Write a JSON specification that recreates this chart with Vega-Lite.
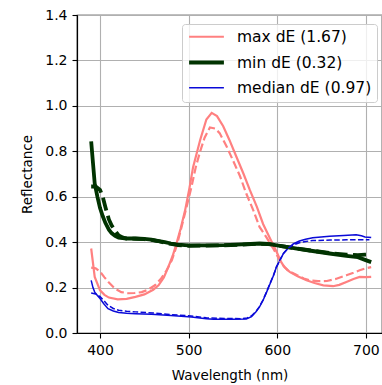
{
  "$schema": "https://vega.github.io/schema/vega-lite/v6.json",
  "width": 305,
  "height": 318,
  "autosize": {"type": "none"},
  "padding": {"left": 77, "top": 15, "right": 0, "bottom": 52},
  "background": "white",
  "config": {
    "font": "DejaVu Sans",
    "view": {"stroke": "black", "strokeWidth": 1.2},
    "axis": {
      "domainColor": "black", "domainWidth": 1.2,
      "tickColor": "black", "tickSize": 5, "tickWidth": 1.1,
      "gridColor": "#b0b0b0", "gridWidth": 1.1,
      "labelFont": "DejaVu Sans", "labelFontSize": 14, "labelColor": "black",
      "titleFont": "DejaVu Sans", "titleFontSize": 13.5, "titleFontWeight": "normal", "titleColor": "black"
    }
  },
  "datasets": {
    "d": [
      {"wl":390,"r":0.372,"series":"max dE (1.67)","kind":"solid"},
      {"wl":394,"r":0.247,"series":"max dE (1.67)","kind":"solid"},
      {"wl":400,"r":0.188,"series":"max dE (1.67)","kind":"solid"},
      {"wl":405,"r":0.168,"series":"max dE (1.67)","kind":"solid"},
      {"wl":410,"r":0.156,"series":"max dE (1.67)","kind":"solid"},
      {"wl":420,"r":0.148,"series":"max dE (1.67)","kind":"solid"},
      {"wl":430,"r":0.150,"series":"max dE (1.67)","kind":"solid"},
      {"wl":440,"r":0.159,"series":"max dE (1.67)","kind":"solid"},
      {"wl":450,"r":0.170,"series":"max dE (1.67)","kind":"solid"},
      {"wl":460,"r":0.190,"series":"max dE (1.67)","kind":"solid"},
      {"wl":466,"r":0.210,"series":"max dE (1.67)","kind":"solid"},
      {"wl":472,"r":0.245,"series":"max dE (1.67)","kind":"solid"},
      {"wl":477,"r":0.290,"series":"max dE (1.67)","kind":"solid"},
      {"wl":482,"r":0.340,"series":"max dE (1.67)","kind":"solid"},
      {"wl":486,"r":0.390,"series":"max dE (1.67)","kind":"solid"},
      {"wl":491,"r":0.460,"series":"max dE (1.67)","kind":"solid"},
      {"wl":496,"r":0.540,"series":"max dE (1.67)","kind":"solid"},
      {"wl":501,"r":0.640,"series":"max dE (1.67)","kind":"solid"},
      {"wl":505,"r":0.730,"series":"max dE (1.67)","kind":"solid"},
      {"wl":513,"r":0.850,"series":"max dE (1.67)","kind":"solid"},
      {"wl":520,"r":0.940,"series":"max dE (1.67)","kind":"solid"},
      {"wl":526,"r":0.969,"series":"max dE (1.67)","kind":"solid"},
      {"wl":532,"r":0.955,"series":"max dE (1.67)","kind":"solid"},
      {"wl":539,"r":0.910,"series":"max dE (1.67)","kind":"solid"},
      {"wl":546,"r":0.850,"series":"max dE (1.67)","kind":"solid"},
      {"wl":554,"r":0.775,"series":"max dE (1.67)","kind":"solid"},
      {"wl":562,"r":0.700,"series":"max dE (1.67)","kind":"solid"},
      {"wl":569,"r":0.630,"series":"max dE (1.67)","kind":"solid"},
      {"wl":577,"r":0.555,"series":"max dE (1.67)","kind":"solid"},
      {"wl":584,"r":0.480,"series":"max dE (1.67)","kind":"solid"},
      {"wl":592,"r":0.415,"series":"max dE (1.67)","kind":"solid"},
      {"wl":599,"r":0.360,"series":"max dE (1.67)","kind":"solid"},
      {"wl":604,"r":0.315,"series":"max dE (1.67)","kind":"solid"},
      {"wl":608,"r":0.290,"series":"max dE (1.67)","kind":"solid"},
      {"wl":614,"r":0.269,"series":"max dE (1.67)","kind":"solid"},
      {"wl":623,"r":0.250,"series":"max dE (1.67)","kind":"solid"},
      {"wl":633,"r":0.232,"series":"max dE (1.67)","kind":"solid"},
      {"wl":642,"r":0.220,"series":"max dE (1.67)","kind":"solid"},
      {"wl":652,"r":0.210,"series":"max dE (1.67)","kind":"solid"},
      {"wl":663,"r":0.206,"series":"max dE (1.67)","kind":"solid"},
      {"wl":670,"r":0.212,"series":"max dE (1.67)","kind":"solid"},
      {"wl":678,"r":0.225,"series":"max dE (1.67)","kind":"solid"},
      {"wl":686,"r":0.238,"series":"max dE (1.67)","kind":"solid"},
      {"wl":693,"r":0.247,"series":"max dE (1.67)","kind":"solid"},
      {"wl":700,"r":0.246,"series":"max dE (1.67)","kind":"solid"},
      {"wl":706,"r":0.247,"series":"max dE (1.67)","kind":"solid"},

      {"wl":390,"r":0.288,"series":"max dE (1.67)","kind":"dashed"},
      {"wl":395,"r":0.285,"series":"max dE (1.67)","kind":"dashed"},
      {"wl":400,"r":0.270,"series":"max dE (1.67)","kind":"dashed"},
      {"wl":405,"r":0.245,"series":"max dE (1.67)","kind":"dashed"},
      {"wl":410,"r":0.222,"series":"max dE (1.67)","kind":"dashed"},
      {"wl":417,"r":0.195,"series":"max dE (1.67)","kind":"dashed"},
      {"wl":424,"r":0.180,"series":"max dE (1.67)","kind":"dashed"},
      {"wl":432,"r":0.175,"series":"max dE (1.67)","kind":"dashed"},
      {"wl":439,"r":0.176,"series":"max dE (1.67)","kind":"dashed"},
      {"wl":447,"r":0.180,"series":"max dE (1.67)","kind":"dashed"},
      {"wl":454,"r":0.190,"series":"max dE (1.67)","kind":"dashed"},
      {"wl":462,"r":0.210,"series":"max dE (1.67)","kind":"dashed"},
      {"wl":469,"r":0.240,"series":"max dE (1.67)","kind":"dashed"},
      {"wl":475,"r":0.275,"series":"max dE (1.67)","kind":"dashed"},
      {"wl":481,"r":0.320,"series":"max dE (1.67)","kind":"dashed"},
      {"wl":487,"r":0.390,"series":"max dE (1.67)","kind":"dashed"},
      {"wl":492,"r":0.467,"series":"max dE (1.67)","kind":"dashed"},
      {"wl":498,"r":0.560,"series":"max dE (1.67)","kind":"dashed"},
      {"wl":503,"r":0.640,"series":"max dE (1.67)","kind":"dashed"},
      {"wl":508,"r":0.730,"series":"max dE (1.67)","kind":"dashed"},
      {"wl":513,"r":0.800,"series":"max dE (1.67)","kind":"dashed"},
      {"wl":518,"r":0.860,"series":"max dE (1.67)","kind":"dashed"},
      {"wl":524,"r":0.905,"series":"max dE (1.67)","kind":"dashed"},
      {"wl":530,"r":0.900,"series":"max dE (1.67)","kind":"dashed"},
      {"wl":535,"r":0.880,"series":"max dE (1.67)","kind":"dashed"},
      {"wl":543,"r":0.820,"series":"max dE (1.67)","kind":"dashed"},
      {"wl":550,"r":0.760,"series":"max dE (1.67)","kind":"dashed"},
      {"wl":558,"r":0.690,"series":"max dE (1.67)","kind":"dashed"},
      {"wl":565,"r":0.614,"series":"max dE (1.67)","kind":"dashed"},
      {"wl":573,"r":0.540,"series":"max dE (1.67)","kind":"dashed"},
      {"wl":580,"r":0.467,"series":"max dE (1.67)","kind":"dashed"},
      {"wl":588,"r":0.420,"series":"max dE (1.67)","kind":"dashed"},
      {"wl":595,"r":0.375,"series":"max dE (1.67)","kind":"dashed"},
      {"wl":600,"r":0.340,"series":"max dE (1.67)","kind":"dashed"},
      {"wl":605,"r":0.305,"series":"max dE (1.67)","kind":"dashed"},
      {"wl":612,"r":0.275,"series":"max dE (1.67)","kind":"dashed"},
      {"wl":622,"r":0.255,"series":"max dE (1.67)","kind":"dashed"},
      {"wl":630,"r":0.240,"series":"max dE (1.67)","kind":"dashed"},
      {"wl":637,"r":0.232,"series":"max dE (1.67)","kind":"dashed"},
      {"wl":646,"r":0.228,"series":"max dE (1.67)","kind":"dashed"},
      {"wl":656,"r":0.229,"series":"max dE (1.67)","kind":"dashed"},
      {"wl":666,"r":0.238,"series":"max dE (1.67)","kind":"dashed"},
      {"wl":678,"r":0.254,"series":"max dE (1.67)","kind":"dashed"},
      {"wl":686,"r":0.265,"series":"max dE (1.67)","kind":"dashed"},
      {"wl":693,"r":0.276,"series":"max dE (1.67)","kind":"dashed"},
      {"wl":700,"r":0.285,"series":"max dE (1.67)","kind":"dashed"},
      {"wl":706,"r":0.290,"series":"max dE (1.67)","kind":"dashed"},

      {"wl":390,"r":0.844,"series":"min dE (0.32)","kind":"solid"},
      {"wl":392,"r":0.750,"series":"min dE (0.32)","kind":"solid"},
      {"wl":394,"r":0.658,"series":"min dE (0.32)","kind":"solid"},
      {"wl":397,"r":0.600,"series":"min dE (0.32)","kind":"solid"},
      {"wl":400,"r":0.550,"series":"min dE (0.32)","kind":"solid"},
      {"wl":403,"r":0.515,"series":"min dE (0.32)","kind":"solid"},
      {"wl":406,"r":0.485,"series":"min dE (0.32)","kind":"solid"},
      {"wl":410,"r":0.455,"series":"min dE (0.32)","kind":"solid"},
      {"wl":413,"r":0.440,"series":"min dE (0.32)","kind":"solid"},
      {"wl":417,"r":0.428,"series":"min dE (0.32)","kind":"solid"},
      {"wl":421,"r":0.420,"series":"min dE (0.32)","kind":"solid"},
      {"wl":430,"r":0.416,"series":"min dE (0.32)","kind":"solid"},
      {"wl":440,"r":0.416,"series":"min dE (0.32)","kind":"solid"},
      {"wl":450,"r":0.414,"series":"min dE (0.32)","kind":"solid"},
      {"wl":458,"r":0.411,"series":"min dE (0.32)","kind":"solid"},
      {"wl":465,"r":0.406,"series":"min dE (0.32)","kind":"solid"},
      {"wl":473,"r":0.400,"series":"min dE (0.32)","kind":"solid"},
      {"wl":480,"r":0.394,"series":"min dE (0.32)","kind":"solid"},
      {"wl":488,"r":0.389,"series":"min dE (0.32)","kind":"solid"},
      {"wl":500,"r":0.386,"series":"min dE (0.32)","kind":"solid"},
      {"wl":520,"r":0.386,"series":"min dE (0.32)","kind":"solid"},
      {"wl":540,"r":0.387,"series":"min dE (0.32)","kind":"solid"},
      {"wl":560,"r":0.390,"series":"min dE (0.32)","kind":"solid"},
      {"wl":580,"r":0.394,"series":"min dE (0.32)","kind":"solid"},
      {"wl":590,"r":0.392,"series":"min dE (0.32)","kind":"solid"},
      {"wl":603,"r":0.384,"series":"min dE (0.32)","kind":"solid"},
      {"wl":612,"r":0.378,"series":"min dE (0.32)","kind":"solid"},
      {"wl":622,"r":0.372,"series":"min dE (0.32)","kind":"solid"},
      {"wl":640,"r":0.361,"series":"min dE (0.32)","kind":"solid"},
      {"wl":659,"r":0.350,"series":"min dE (0.32)","kind":"solid"},
      {"wl":678,"r":0.340,"series":"min dE (0.32)","kind":"solid"},
      {"wl":691,"r":0.334,"series":"min dE (0.32)","kind":"solid"},
      {"wl":699,"r":0.322,"series":"min dE (0.32)","kind":"solid"},
      {"wl":706,"r":0.312,"series":"min dE (0.32)","kind":"solid"},

      {"wl":390,"r":0.645,"series":"min dE (0.32)","kind":"dashed"},
      {"wl":395,"r":0.645,"series":"min dE (0.32)","kind":"dashed"},
      {"wl":400,"r":0.630,"series":"min dE (0.32)","kind":"dashed"},
      {"wl":403,"r":0.600,"series":"min dE (0.32)","kind":"dashed"},
      {"wl":406,"r":0.555,"series":"min dE (0.32)","kind":"dashed"},
      {"wl":410,"r":0.500,"series":"min dE (0.32)","kind":"dashed"},
      {"wl":413,"r":0.474,"series":"min dE (0.32)","kind":"dashed"},
      {"wl":417,"r":0.450,"series":"min dE (0.32)","kind":"dashed"},
      {"wl":421,"r":0.430,"series":"min dE (0.32)","kind":"dashed"},
      {"wl":426,"r":0.420,"series":"min dE (0.32)","kind":"dashed"},
      {"wl":430,"r":0.416,"series":"min dE (0.32)","kind":"dashed"},
      {"wl":440,"r":0.415,"series":"min dE (0.32)","kind":"dashed"},
      {"wl":450,"r":0.413,"series":"min dE (0.32)","kind":"dashed"},
      {"wl":458,"r":0.410,"series":"min dE (0.32)","kind":"dashed"},
      {"wl":465,"r":0.405,"series":"min dE (0.32)","kind":"dashed"},
      {"wl":473,"r":0.398,"series":"min dE (0.32)","kind":"dashed"},
      {"wl":480,"r":0.392,"series":"min dE (0.32)","kind":"dashed"},
      {"wl":488,"r":0.387,"series":"min dE (0.32)","kind":"dashed"},
      {"wl":500,"r":0.384,"series":"min dE (0.32)","kind":"dashed"},
      {"wl":520,"r":0.385,"series":"min dE (0.32)","kind":"dashed"},
      {"wl":540,"r":0.386,"series":"min dE (0.32)","kind":"dashed"},
      {"wl":560,"r":0.389,"series":"min dE (0.32)","kind":"dashed"},
      {"wl":580,"r":0.393,"series":"min dE (0.32)","kind":"dashed"},
      {"wl":590,"r":0.391,"series":"min dE (0.32)","kind":"dashed"},
      {"wl":603,"r":0.384,"series":"min dE (0.32)","kind":"dashed"},
      {"wl":612,"r":0.378,"series":"min dE (0.32)","kind":"dashed"},
      {"wl":622,"r":0.372,"series":"min dE (0.32)","kind":"dashed"},
      {"wl":640,"r":0.362,"series":"min dE (0.32)","kind":"dashed"},
      {"wl":659,"r":0.352,"series":"min dE (0.32)","kind":"dashed"},
      {"wl":678,"r":0.345,"series":"min dE (0.32)","kind":"dashed"},
      {"wl":691,"r":0.343,"series":"min dE (0.32)","kind":"dashed"},
      {"wl":699,"r":0.345,"series":"min dE (0.32)","kind":"dashed"},
      {"wl":706,"r":0.346,"series":"min dE (0.32)","kind":"dashed"},

      {"wl":390,"r":0.232,"series":"median dE (0.97)","kind":"solid"},
      {"wl":392,"r":0.200,"series":"median dE (0.97)","kind":"solid"},
      {"wl":394,"r":0.180,"series":"median dE (0.97)","kind":"solid"},
      {"wl":397,"r":0.165,"series":"median dE (0.97)","kind":"solid"},
      {"wl":400,"r":0.152,"series":"median dE (0.97)","kind":"solid"},
      {"wl":404,"r":0.130,"series":"median dE (0.97)","kind":"solid"},
      {"wl":409,"r":0.107,"series":"median dE (0.97)","kind":"solid"},
      {"wl":415,"r":0.097,"series":"median dE (0.97)","kind":"solid"},
      {"wl":421,"r":0.090,"series":"median dE (0.97)","kind":"solid"},
      {"wl":430,"r":0.087,"series":"median dE (0.97)","kind":"solid"},
      {"wl":440,"r":0.085,"series":"median dE (0.97)","kind":"solid"},
      {"wl":458,"r":0.082,"series":"median dE (0.97)","kind":"solid"},
      {"wl":480,"r":0.077,"series":"median dE (0.97)","kind":"solid"},
      {"wl":503,"r":0.070,"series":"median dE (0.97)","kind":"solid"},
      {"wl":520,"r":0.063,"series":"median dE (0.97)","kind":"solid"},
      {"wl":528,"r":0.060,"series":"median dE (0.97)","kind":"solid"},
      {"wl":550,"r":0.060,"series":"median dE (0.97)","kind":"solid"},
      {"wl":565,"r":0.062,"series":"median dE (0.97)","kind":"solid"},
      {"wl":571,"r":0.072,"series":"median dE (0.97)","kind":"solid"},
      {"wl":576,"r":0.093,"series":"median dE (0.97)","kind":"solid"},
      {"wl":580,"r":0.115,"series":"median dE (0.97)","kind":"solid"},
      {"wl":584,"r":0.144,"series":"median dE (0.97)","kind":"solid"},
      {"wl":588,"r":0.180,"series":"median dE (0.97)","kind":"solid"},
      {"wl":592,"r":0.218,"series":"median dE (0.97)","kind":"solid"},
      {"wl":596,"r":0.255,"series":"median dE (0.97)","kind":"solid"},
      {"wl":599,"r":0.290,"series":"median dE (0.97)","kind":"solid"},
      {"wl":603,"r":0.320,"series":"median dE (0.97)","kind":"solid"},
      {"wl":607,"r":0.350,"series":"median dE (0.97)","kind":"solid"},
      {"wl":612,"r":0.372,"series":"median dE (0.97)","kind":"solid"},
      {"wl":618,"r":0.392,"series":"median dE (0.97)","kind":"solid"},
      {"wl":625,"r":0.405,"series":"median dE (0.97)","kind":"solid"},
      {"wl":632,"r":0.413,"series":"median dE (0.97)","kind":"solid"},
      {"wl":640,"r":0.419,"series":"median dE (0.97)","kind":"solid"},
      {"wl":659,"r":0.426,"series":"median dE (0.97)","kind":"solid"},
      {"wl":675,"r":0.429,"series":"median dE (0.97)","kind":"solid"},
      {"wl":689,"r":0.432,"series":"median dE (0.97)","kind":"solid"},
      {"wl":695,"r":0.428,"series":"median dE (0.97)","kind":"solid"},
      {"wl":699,"r":0.423,"series":"median dE (0.97)","kind":"solid"},
      {"wl":706,"r":0.420,"series":"median dE (0.97)","kind":"solid"},

      {"wl":390,"r":0.176,"series":"median dE (0.97)","kind":"dashed"},
      {"wl":395,"r":0.172,"series":"median dE (0.97)","kind":"dashed"},
      {"wl":400,"r":0.160,"series":"median dE (0.97)","kind":"dashed"},
      {"wl":405,"r":0.140,"series":"median dE (0.97)","kind":"dashed"},
      {"wl":409,"r":0.122,"series":"median dE (0.97)","kind":"dashed"},
      {"wl":415,"r":0.108,"series":"median dE (0.97)","kind":"dashed"},
      {"wl":421,"r":0.100,"series":"median dE (0.97)","kind":"dashed"},
      {"wl":430,"r":0.096,"series":"median dE (0.97)","kind":"dashed"},
      {"wl":440,"r":0.093,"series":"median dE (0.97)","kind":"dashed"},
      {"wl":460,"r":0.088,"series":"median dE (0.97)","kind":"dashed"},
      {"wl":480,"r":0.081,"series":"median dE (0.97)","kind":"dashed"},
      {"wl":500,"r":0.076,"series":"median dE (0.97)","kind":"dashed"},
      {"wl":520,"r":0.067,"series":"median dE (0.97)","kind":"dashed"},
      {"wl":540,"r":0.064,"series":"median dE (0.97)","kind":"dashed"},
      {"wl":560,"r":0.063,"series":"median dE (0.97)","kind":"dashed"},
      {"wl":566,"r":0.066,"series":"median dE (0.97)","kind":"dashed"},
      {"wl":571,"r":0.076,"series":"median dE (0.97)","kind":"dashed"},
      {"wl":576,"r":0.095,"series":"median dE (0.97)","kind":"dashed"},
      {"wl":580,"r":0.117,"series":"median dE (0.97)","kind":"dashed"},
      {"wl":584,"r":0.146,"series":"median dE (0.97)","kind":"dashed"},
      {"wl":588,"r":0.182,"series":"median dE (0.97)","kind":"dashed"},
      {"wl":592,"r":0.220,"series":"median dE (0.97)","kind":"dashed"},
      {"wl":596,"r":0.257,"series":"median dE (0.97)","kind":"dashed"},
      {"wl":599,"r":0.290,"series":"median dE (0.97)","kind":"dashed"},
      {"wl":603,"r":0.322,"series":"median dE (0.97)","kind":"dashed"},
      {"wl":607,"r":0.350,"series":"median dE (0.97)","kind":"dashed"},
      {"wl":612,"r":0.372,"series":"median dE (0.97)","kind":"dashed"},
      {"wl":616,"r":0.383,"series":"median dE (0.97)","kind":"dashed"},
      {"wl":620,"r":0.390,"series":"median dE (0.97)","kind":"dashed"},
      {"wl":625,"r":0.397,"series":"median dE (0.97)","kind":"dashed"},
      {"wl":632,"r":0.403,"series":"median dE (0.97)","kind":"dashed"},
      {"wl":640,"r":0.407,"series":"median dE (0.97)","kind":"dashed"},
      {"wl":660,"r":0.409,"series":"median dE (0.97)","kind":"dashed"},
      {"wl":678,"r":0.410,"series":"median dE (0.97)","kind":"dashed"},
      {"wl":690,"r":0.410,"series":"median dE (0.97)","kind":"dashed"},
      {"wl":704,"r":0.410,"series":"median dE (0.97)","kind":"dashed"}
    ]
  },
  "data": {"name": "d"},
  "encoding": {
    "x": {
      "field": "wl", "type": "quantitative",
      "scale": {"domain": [374, 718.2], "nice": false, "zero": false},
      "axis": {"title": "Wavelength (nm)", "values": [400, 500, 600, 700], "labelPadding": 5, "titlePadding": 11}
    },
    "y": {
      "field": "r", "type": "quantitative",
      "scale": {"domain": [0, 1.4], "nice": false},
      "axis": {"title": "Reflectance", "values": [0, 0.2, 0.4, 0.6, 0.8, 1.0, 1.2, 1.4], "format": ".1f", "labelPadding": 5, "titlePadding": 10}
    },
    "color": {
      "field": "series", "type": "nominal",
      "scale": {"domain": ["max dE (1.67)", "min dE (0.32)", "median dE (0.97)"], "range": ["#ff8080", "#013301", "#0a0ad8"]},
      "legend": {
        "title": null, "orient": "none", "legendX": 105, "legendY": 9,
        "symbolType": "M-2.9,0H2.9", "symbolSize": 144, "symbolOffset": 11.5, "symbolStrokeWidth": 2.5,
        "labelFont": "DejaVu Sans", "labelFontSize": 15.5, "labelColor": "black", "labelOffset": 22.5,
        "rowPadding": 8.5, "padding": 5,
        "fillColor": "rgba(255,255,255,0.8)", "strokeColor": "#cccccc", "cornerRadius": 3
      }
    }
  },
  "layer": [
    {
      "transform": [{"filter": "datum.kind == 'solid'"}],
      "mark": {"type": "line"},
      "encoding": {
        "strokeWidth": {
          "field": "series", "type": "nominal",
          "scale": {"type": "ordinal", "domain": ["max dE (1.67)", "min dE (0.32)", "median dE (0.97)"], "range": [2.2, 3.8, 1.5]},
          "legend": null
        }
      }
    },
    {
      "transform": [{"filter": "datum.kind == 'dashed' && datum.series == 'max dE (1.67)'"}],
      "mark": {"type": "line", "strokeWidth": 2.2, "strokeDash": [8, 3.5]}
    },
    {
      "transform": [{"filter": "datum.kind == 'dashed' && datum.series == 'min dE (0.32)'"}],
      "mark": {"type": "line", "strokeWidth": 3.8, "strokeDash": [13, 5.5]}
    },
    {
      "transform": [{"filter": "datum.kind == 'dashed' && datum.series == 'median dE (0.97)'"}],
      "mark": {"type": "line", "strokeWidth": 1.5, "strokeDash": [5.5, 2.4]}
    }
  ]
}
